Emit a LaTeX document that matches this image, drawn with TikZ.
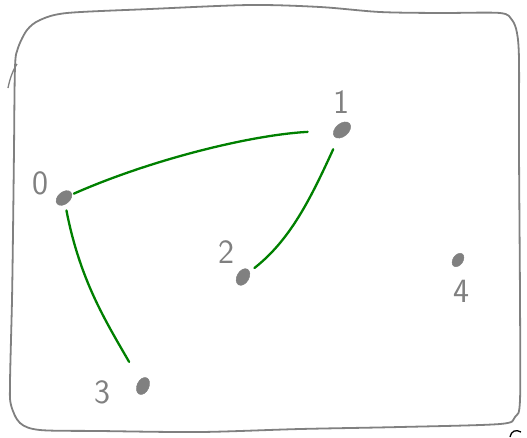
\documentclass[tikz,border=0pt]{standalone}
\usetikzlibrary{shapes.geometric}
\definecolor{sketchgray}{RGB}{128,128,128}
\definecolor{edgegreen}{RGB}{0,128,0}
\tikzset{
  vert/.style={ellipse, fill=sketchgray, draw=sketchgray, inner sep=0pt, minimum width=18pt, minimum height=12pt},
  lbl/.style={text=sketchgray, font=\sffamily\fontsize{34}{34}\selectfont, inner sep=0pt},
  edge/.style={draw=edgegreen, line width=2.3pt, line cap=round},
  frame/.style={draw=sketchgray, line width=1.8pt}
}
\begin{document}
\begin{tikzpicture}[x=1pt, y=-1pt]
\useasboundingbox (0,0) rectangle (527,437);
% frame
\path[frame] plot[smooth cycle, tension=0.5] coordinates {
 (40,20) (67,13) (150,9) (250,5) (320,7) (380,12) (440,13) (500,13)
 (512,20) (517,33) (519,60) (519,150) (520,300) (520,400) (515,417) (500,424)
 (400,427) (300,429) (200,432) (100,431) (40,430) (20,423) (11,405)
 (10,383) (12,300) (13,233) (14,150) (15,67) (18,48) (27,30)};
\draw[sketchgray, line width=1.3pt] (8,88) .. controls (10,78) and (13,70) .. (17,64);
% vertices
\node[vert, rotate=40] (n0) at (64,198) {};
\node[vert, rotate=40, minimum width=20pt, minimum height=13pt] (n1) at (342,130) {};
\node[vert, rotate=60] (n2) at (243,277) {};
\node[vert, rotate=65] (n3) at (143,386) {};
\node[vert, rotate=55, minimum width=15pt, minimum height=10pt] (n4) at (458,260) {};
% labels
\node[lbl] (l0) at (40,183) {0};
\node[lbl] (l1) at (341,102) {1};
\node[lbl] (l2) at (226,252) {2};
\node[lbl] (l3) at (102,392) {3};
\node[lbl] (l4) at (461,291) {4};
% edges
\path[edge, shorten <=2pt, shorten >=26pt] (n0) .. controls (150,160) and (250,135) .. (n1);
\path[edge, shorten <=12pt, shorten >=6pt] (n1) .. controls (310,200) and (290,240) .. (n2);
\path[edge, shorten <=6pt, shorten >=21pt] (n0) .. controls (80,280) and (105,320) .. (n3);
% cut-off fragment at bottom right
\draw[black, line width=1.3pt] (510,437) .. controls (511,431) and (516,429) .. (521,432);
\end{tikzpicture}
\end{document}
